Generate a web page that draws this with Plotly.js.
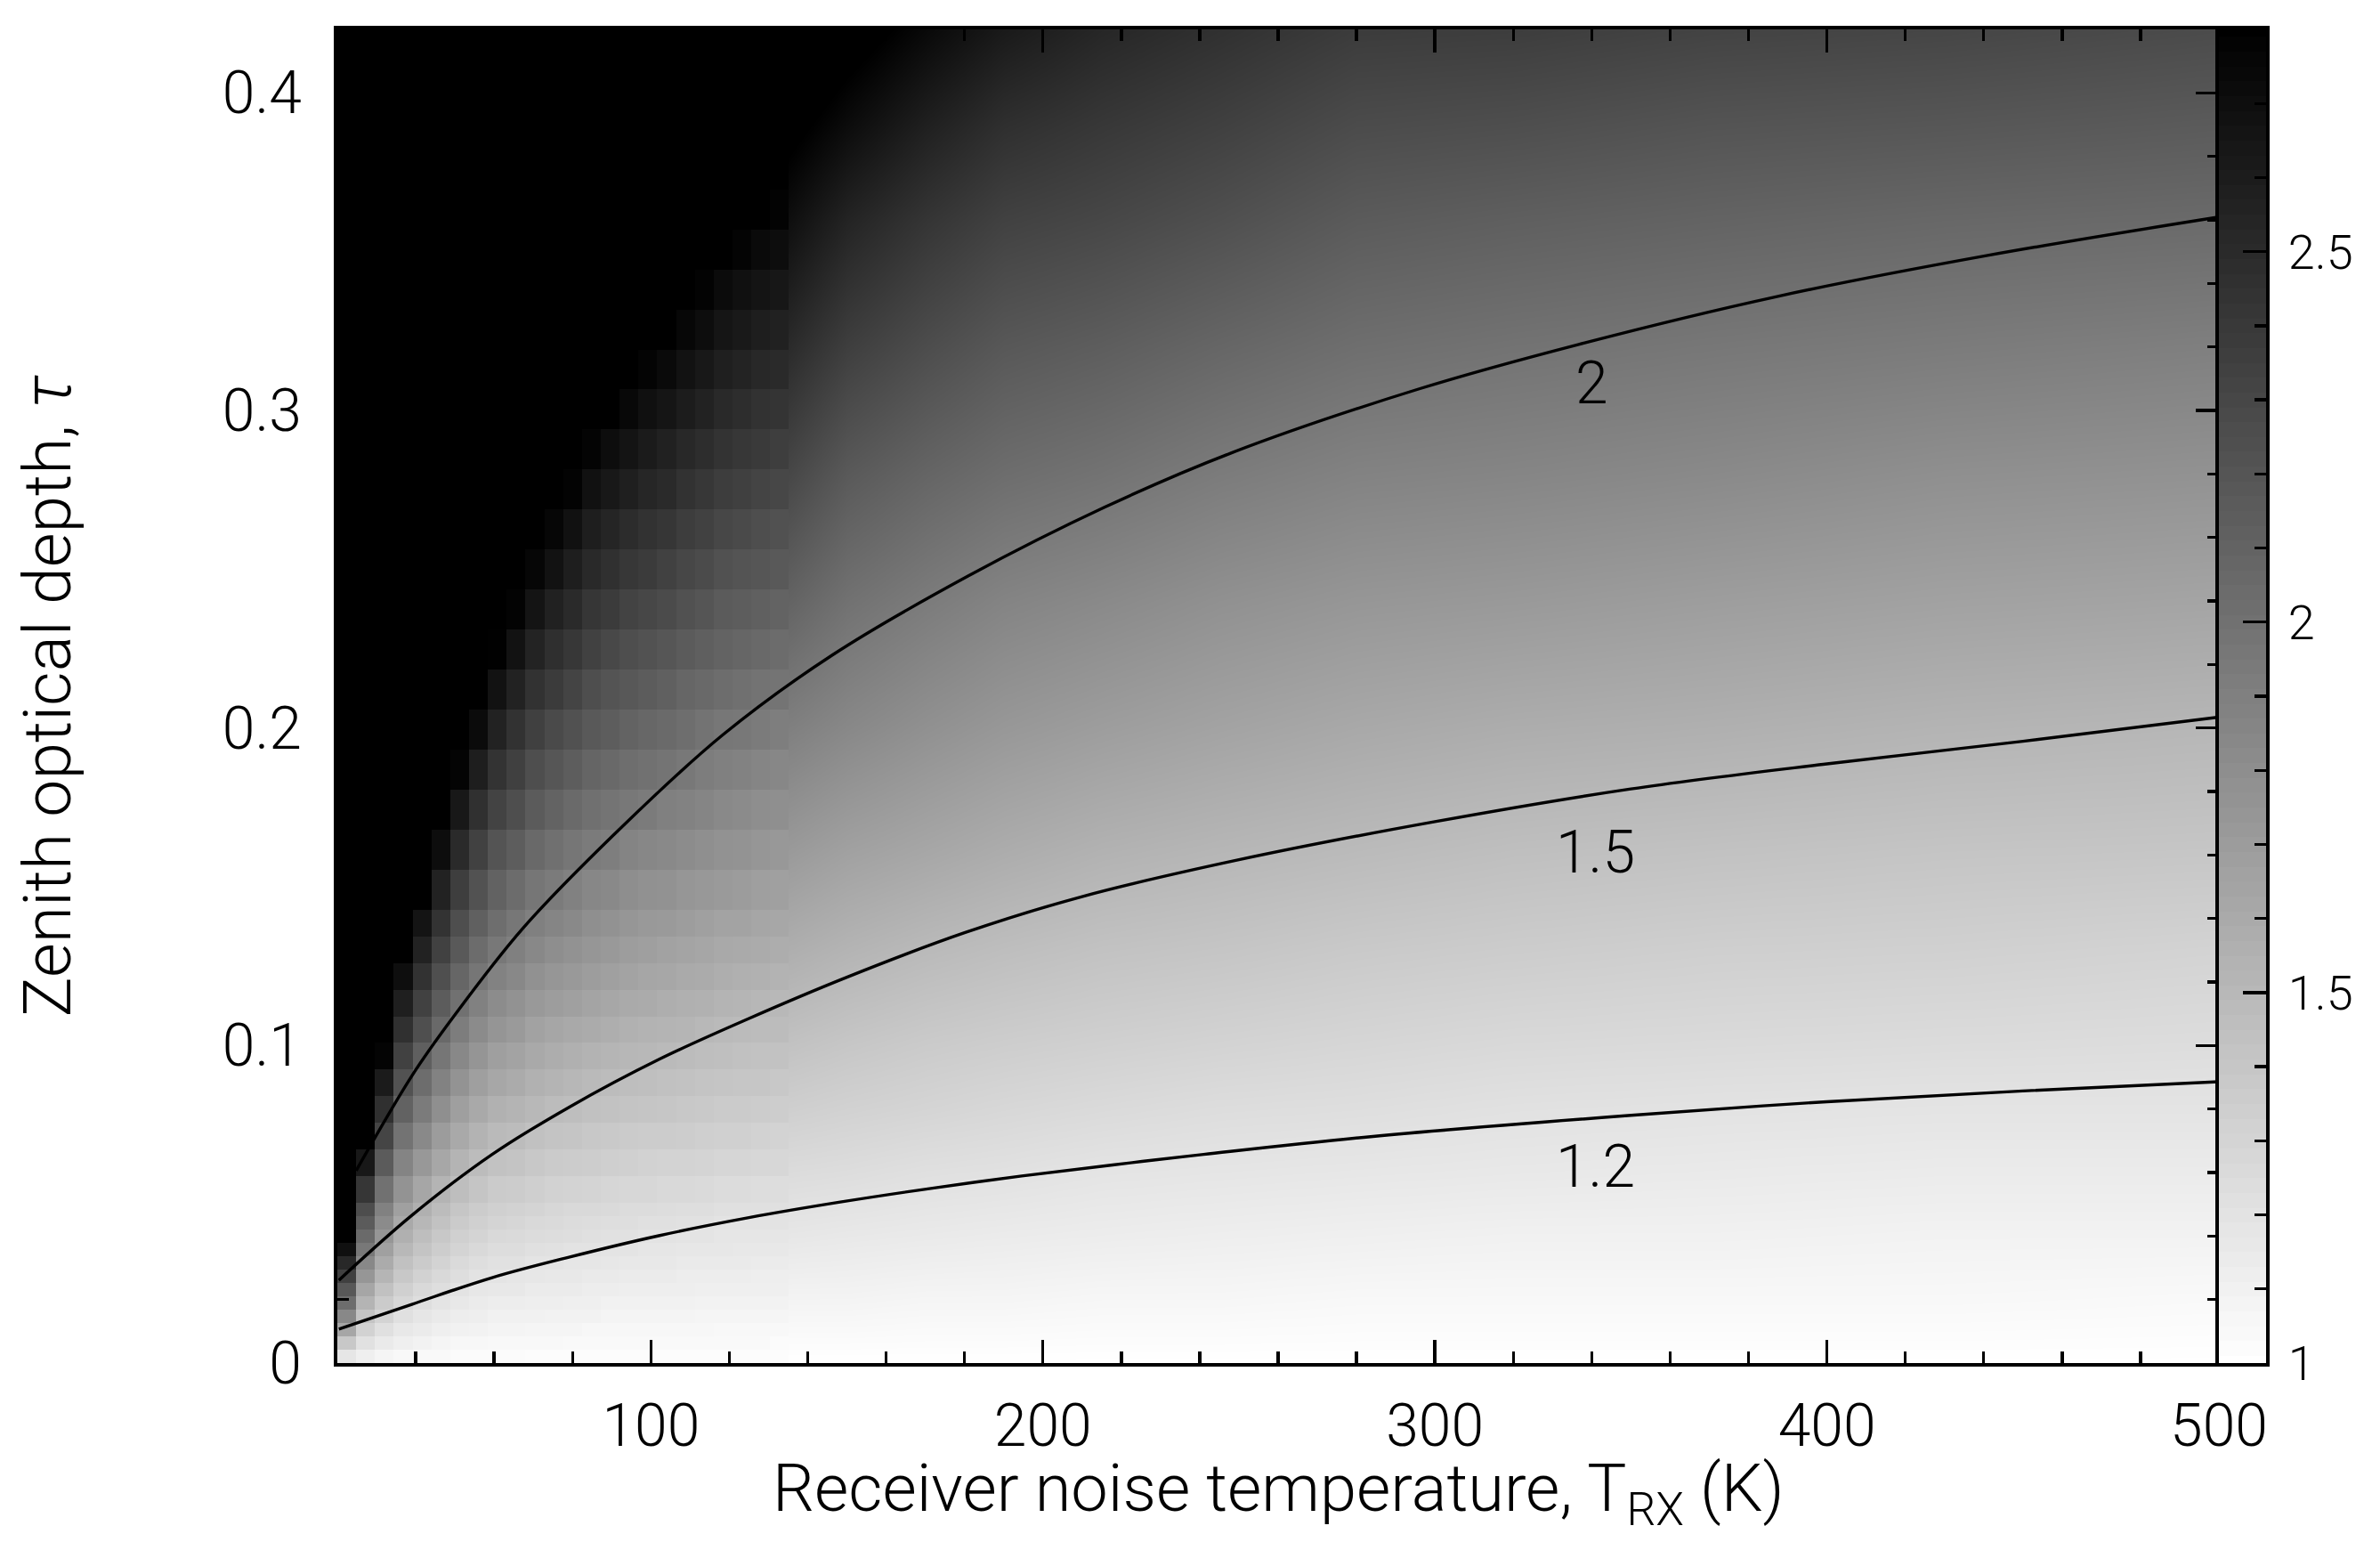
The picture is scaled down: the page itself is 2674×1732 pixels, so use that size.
<!DOCTYPE html>
<html><head><meta charset="utf-8">
<script src="https://cdn.plot.ly/plotly-3.0.1.min.js"></script>
<style>html,body{margin:0;padding:0;background:#fff}</style></head>
<body><div id="plot" style="width:2674px;height:1732px"></div>
<script>
// Saturated value (black end of the scale), in hundredths
const saturated = 280;
// Blocky left part of the image: column edges and row edges
const blockT = [20,24.8,29.6,34.4,39.2,44,48.8,53.6,58.4,63.2,68,72.8,77.6,82.4,87.2,92,96.8,101.6,106.4,111.2,116,120.8,125.6,130.4,135.2];
const blockTau = [0,.0042,.0084,.0126,.0168,.021,.0252,.0294,.0336,.0378,.042,.0462,.0504,.0588,.0672,.0756,.084,.0924,.1008,.1092,.1176,.126,.1344,.1428,.1554,.168,.1806,.1932,.2058,.2184,.231,.2436,.2562,.2688,.2814,.294,.3066,.3192,.3318,.3444,.357,.3696,.3822,.3948,.4074,.42];
// Each column reads upward from tau=0 (value x 100); cells above the list are saturated
const col01 = [118,139,163,184,203,218,235,252,269];
const col02 = [111,121,132,142,153,163,174,184,195,205,216,226,242,263];
const col03 = [107,115,122,130,137,144,152,159,167,174,182,189,200,216,231,246,261,277];
const col04 = [105,111,116,122,128,133,139,144,150,156,161,167,176,187,199,211,222,234,246,258,270];
const col05 = [104,109,114,118,123,127,132,137,142,146,151,156,163,173,183,193,203,213,224,234,245,256,266];
const col06 = [104,107,111,115,119,123,127,131,135,139,143,147,153,162,170,179,188,197,206,215,224,234,244,256,271];
const col07 = [103,106,110,113,116,120,123,126,130,133,137,140,146,153,161,168,176,184,192,200,208,217,225,236,250,263,277];
const col08 = [103,106,109,112,114,117,120,123,127,130,133,136,141,147,154,161,168,175,182,189,197,204,212,222,234,246,259,272];
const col09 = [103,105,108,110,113,116,119,121,124,127,130,133,137,143,149,155,162,168,175,181,188,195,202,211,221,233,244,256,267,279];
const col10 = [103,105,108,110,113,116,118,121,124,126,129,132,136,142,147,153,159,165,171,177,184,190,196,204,214,225,235,245,256,267,278];
const col11 = [102,105,107,110,112,114,117,119,122,125,127,130,134,139,144,150,155,161,166,172,178,184,190,197,206,216,225,235,245,255,266,276];
const col12 = [102,105,107,109,112,114,116,119,121,124,126,128,132,137,142,147,153,158,163,169,174,180,186,193,201,210,219,228,238,247,257,267,276];
const col13 = [102,104,107,109,111,114,116,118,120,123,125,127,131,136,141,146,151,156,161,167,172,177,183,189,197,205,214,223,232,241,250,259,268,278];
const col14 = [102,104,106,109,111,113,115,118,120,122,124,127,130,135,139,144,149,154,159,164,169,174,179,185,193,201,209,217,225,234,242,251,259,268,277];
const col15 = [102,104,106,108,110,113,115,117,119,121,123,126,129,134,138,143,147,152,157,162,167,172,177,183,191,198,206,214,221,229,238,246,254,263,271];
const col16 = [102,104,106,108,110,112,114,116,119,121,123,125,128,133,137,142,146,151,155,160,165,169,174,180,187,195,202,210,218,225,233,241,249,258,266,274];
const col17 = [102,104,106,108,110,112,114,116,118,120,122,125,128,132,136,141,145,150,154,159,163,168,172,178,185,193,200,207,215,222,230,238,245,253,261,269,277];
const col18 = [102,104,106,108,110,112,114,116,118,120,122,124,127,131,136,140,144,149,153,157,162,166,171,177,183,190,198,205,212,219,227,234,242,250,257,265,273];
const col19 = [102,104,106,108,110,112,113,115,117,119,121,123,127,131,135,139,143,147,152,156,160,164,169,174,181,188,195,202,208,216,223,230,237,245,252,260,267,275];
const col20 = [102,104,106,107,109,111,113,115,117,119,121,123,126,130,134,138,142,146,150,155,159,163,167,173,179,186,192,199,206,213,220,227,234,241,248,256,263,271,278];
const col21 = [102,104,105,107,109,111,113,115,117,118,120,122,125,129,133,137,141,145,149,153,157,161,165,171,177,183,190,196,203,210,216,223,230,237,244,251,258,265,272];
const col22 = [102,104,105,107,109,111,113,115,116,118,120,122,125,129,133,137,140,144,148,152,156,160,165,170,176,182,188,195,201,208,214,221,228,235,241,248,255,262,269,277];
const col23 = [102,104,105,107,109,111,112,114,116,118,120,122,124,128,132,136,140,143,147,151,155,159,163,168,174,180,186,193,199,206,212,219,225,232,239,245,252,259,266,273];
const col24 = [102,103,105,107,109,111,112,114,116,118,120,122,124,128,131,135,139,143,147,150,154,158,162,167,173,179,185,191,198,204,210,217,223,230,236,243,250,257,264,271,278];
const blockColumns = [col01,col02,col03,col04,col05,col06,col07,col08,col09,col10,col11,col12,col13,col14,col15,col16,col17,col18,col19,col20,col21,col22,col23,col24];
// Smooth right part of the image: sampled points (value x 100)
const smoothT = [116,135,150,170,190,215,245,280,320,370,430,500];
const smoothTau = [0,.02,.04,.06,.08,.1,.13,.16,.2,.24,.28,.32,.36,.39,.42];
const row000 = [100,100,100,100,100,100,100,100,100,100,100,100];
const row020 = [109,108,108,107,107,106,106,105,105,105,105,104];
const row040 = [118,117,116,115,114,113,112,111,110,110,109,109];
const row060 = [127,125,124,122,121,119,118,117,116,115,114,114];
const row080 = [136,134,132,130,128,126,124,123,121,120,119,119];
const row100 = [146,143,140,137,135,133,131,129,127,126,125,124];
const row130 = [160,157,153,149,146,143,141,138,136,134,133,131];
const row160 = [175,171,166,162,158,154,151,148,145,143,141,140];
const row200 = [196,190,184,178,173,169,165,161,158,156,153,151];
const row240 = [217,210,200,193,187,183,178,174,172,169,166,164];
const row280 = [239,230,217,209,203,199,193,188,186,183,179,177];
const row320 = [262,250,236,226,218,214,208,202,199,196,193,190];
const row360 = [285,270,255,243,234,230,224,216,213,210,207,205];
const row390 = [303,285,272,258,247,241,235,227,225,221,219,216];
const row420 = [323,300,288,274,262,253,246,238,237,233,231,227];
const smoothRows = [row000,row020,row040,row060,row080,row100,row130,row160,row200,row240,row280,row320,row360,row390,row420];
// Colour-scale strip values
const barValues = [1,1.02,1.04,1.06,1.08,1.1,1.12,1.14,1.16,1.18,1.2,1.22,1.24,1.26,1.28,1.3,1.32,1.34,1.36,1.38,1.4,1.42,1.44,1.46,1.48,1.5,1.52,1.54,1.56,1.58,1.6,1.62,1.64,1.66,1.68,1.7,1.72,1.74,1.76,1.78,1.8,1.82,1.84,1.86,1.88,1.9,1.92,1.94,1.96,1.98,2,2.02,2.04,2.06,2.08,2.1,2.12,2.14,2.16,2.18,2.2,2.22,2.24,2.26,2.28,2.3,2.32,2.34,2.36,2.38,2.4,2.42,2.44,2.46,2.48,2.5,2.52,2.54,2.56,2.58,2.6,2.62,2.64,2.66,2.68,2.7,2.72,2.74,2.76,2.78,2.8];
// Contours
const curve12T = [20.4,39,59.5,79.3,102,125,148.3,171.4,194.6,217.8,241,283.6,350,400,450,500];
const curve12Tau = [.0107,.0185,.0269,.0334,.0401,.0458,.0507,.055,.0589,.0624,.0657,.0713,.078,.0823,.0857,.0886];
const curve15T = [20.4,39,59.5,79.3,102,125,150,180,210,250,300,350,400,450,500];
const curve15Tau = [.0261,.0465,.0657,.0807,.0956,.1085,.1215,.1355,.1469,.1585,.1705,.1808,.1887,.1958,.2034];
const curve20T = [24.8,39.1,49,67.4,92.9,118.3,146.2,181,215.7,248,296,336.7,387,441,500];
const curve20Tau = [.0606,.0906,.108,.137,.1692,.1978,.2229,.2479,.2695,.2866,.3068,.3208,.3358,.3488,.3609];
const contourLabels = ["1.2","1.5","2"];
const labelT = [341,341,340];
const labelTau = [.0617,.1608,.3086];
const xTitle = "Receiver noise temperature, T<sub>RX</sub> (K)";
const yTitle = "Zenith optical depth, <i>τ</i>";

const face = "Roboto";
const thin = 300;
const gray = [[0,"#ffffff"],[1,"#000000"]];
const blockZ = blockTau.slice(1).map((_,i)=>blockColumns.map(c=>(i<c.length?c[i]:saturated)/100));
const smoothZ = smoothRows.map(r=>r.map(v=>v/100));
const W=2674,H=1732;
function curve(x,y){return {type:"scatter",mode:"lines",x:x,y:y,line:{color:"#000",width:3.4,shape:"spline",smoothing:1},hoverinfo:"skip",showlegend:false};}
function tickSet(dt,t0){return {ticks:"inside",ticklen:26,tickwidth:3.4,tickcolor:"#000",dtick:dt,tick0:t0};}
function minorSet(dt,t0){return {dtick:dt,tick0:t0,ticks:"inside",ticklen:13,tickwidth:3.4,tickcolor:"#000",showgrid:false};}
const data=[
 {type:"heatmap",x:smoothT,y:smoothTau,z:smoothZ,zmin:1,zmax:2.8,colorscale:gray,showscale:false,zsmooth:"best",hoverinfo:"skip"},
 {type:"heatmap",x:blockT,y:blockTau,z:blockZ,zmin:1,zmax:2.8,colorscale:gray,showscale:false,zsmooth:false,hoverinfo:"skip"},
 curve(curve12T,curve12Tau),curve(curve15T,curve15Tau),curve(curve20T,curve20Tau),
 {type:"heatmap",xaxis:"x2",yaxis:"y2",x:[0,1],y:barValues,z:barValues.map(v=>[v]),zmin:1,zmax:2.8,colorscale:gray,showscale:false,hoverinfo:"skip"}
];
const layout={
 width:W,height:H,autosize:false,margin:{l:0,r:0,t:0,b:0},paper_bgcolor:"#fff",plot_bgcolor:"#fff",showlegend:false,
 font:{family:face,color:"#000",size:66,weight:thin},
 xaxis:Object.assign(tickSet(100,0),{domain:[379/W,2493/W],range:[20,500],anchor:"y",minor:minorSet(20,0),
  showline:true,linewidth:4,linecolor:"#000",mirror:"allticks",showgrid:false,zeroline:false,ticklabelstandoff:10,
  tickfont:{size:66,family:face,weight:thin}}),
 yaxis:Object.assign(tickSet(.1,0),{domain:[1-1531/H,1-33/H],range:[0,.42],anchor:"x",minor:minorSet(.02,0),
  showline:true,linewidth:4,linecolor:"#000",mirror:"allticks",showgrid:false,zeroline:false,ticklabelstandoff:23,
  tickfont:{size:66,family:face,weight:thin},title:{text:yTitle,font:{size:75,family:face,weight:thin},standoff:147}}),
 xaxis2:{domain:[2493/W,2546/W],range:[0,1],anchor:"y2",showticklabels:false,ticks:"",showline:true,linewidth:4,linecolor:"#000",mirror:true,showgrid:false,zeroline:false},
 yaxis2:Object.assign(tickSet(.5,1),{domain:[1-1531/H,1-33/H],range:[1,2.8],anchor:"x2",side:"right",minor:minorSet(.1,1),
  showline:true,linewidth:4,linecolor:"#000",mirror:true,showgrid:false,zeroline:false,ticklabelstandoff:10,tickfont:{size:54,family:face,weight:thin}}),
 annotations:contourLabels.map((t,i)=>({x:labelT[i],y:labelTau[i],xref:"x",yref:"y",text:t,showarrow:false,font:{size:66,family:face,color:"#000",weight:thin}})).concat([
  {x:1436/W,y:1-1677/H,xref:"paper",yref:"paper",text:xTitle,showarrow:false,xanchor:"center",yanchor:"middle",font:{size:74,family:face,color:"#000",weight:thin}}])
};
Plotly.newPlot("plot",data,layout,{staticPlot:true,displayModeBar:false});
</script></body></html>
